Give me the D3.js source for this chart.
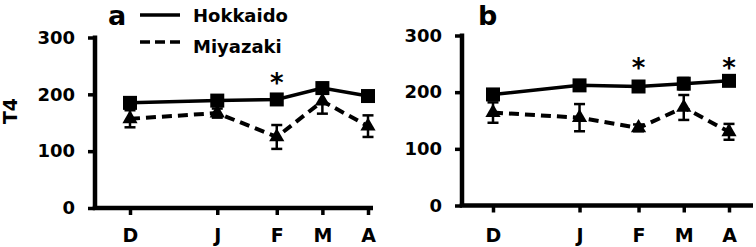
<!DOCTYPE html>
<html>
<head>
<meta charset="utf-8">
<script src="https://cdn.jsdelivr.net/npm/d3@7"></script>
<style>
  html, body { margin: 0; padding: 0; background: #fff; }
  svg { display: block; }
  text { font-family: "DejaVu Sans", Verdana, sans-serif; fill: #000; }
</style>
</head>
<body>
<svg id="chart" width="756" height="247"></svg>
<script>
// ---- data ----
const months = ["D", "J", "F", "M", "A"];
const monthDay = [0, 44, 74, 97, 120];          // sampling day since December
const yTicks = [0, 100, 200, 300];

const hokkaidoA = [185, 189, 191, 211, 197];
const hokkaidoAErr = [8, 6, 6, 9, 8];
const miyazakiA = [157, 167, 125, 188, 144];
const miyazakiAErr = [15, 8, 21, 22, 19];
const sigA = ["F"];

const hokkaidoB = [196, 212, 210, 215, 220];
const hokkaidoBErr = [8, 6, 6, 10, 6];
const miyazakiB = [164, 155, 137, 173, 130];
const miyazakiBErr = [18, 24, 6, 22, 14];
const sigB = ["F", "A"];

const seriesNames = ["Hokkaido", "Miyazaki"];
const panelLetters = ["a", "b"];
const yLabel = "T4";

// ---- drawing ----
const svg = d3.select("#chart");
const labelTop = 228.5;

const panels = [
  { letter: panelLetters[0], h: hokkaidoA, hErr: hokkaidoAErr, m: miyazakiA, mErr: miyazakiAErr, sig: sigA,
    axisX: 95, xRange: [130, 368], xEnd: 373, yRange: [208, 37.5], sigY: 78, letterX: 108 },
  { letter: panelLetters[1], h: hokkaidoB, hErr: hokkaidoBErr, m: miyazakiB, mErr: miyazakiBErr, sig: sigB,
    axisX: 462, xRange: [493, 729], xEnd: 753, yRange: [205.5, 35.5], sigY: 62.5, letterX: 478 }
];

panels.forEach((p, pi) => {
  const x = d3.scaleLinear().domain([monthDay[0], monthDay[monthDay.length - 1]]).range(p.xRange);
  const y = d3.scaleLinear().domain([0, 300]).range(p.yRange);
  const g = svg.append("g");

  // y axis
  const ya = g.append("g").attr("transform", `translate(${p.axisX},0)`)
    .call(d3.axisLeft(y).tickValues(yTicks).tickSize(7).tickPadding(13).tickSizeOuter(0));
  ya.select(".domain").remove();
  ya.selectAll(".tick line").attr("stroke", "#000").attr("stroke-width", 3.5);
  ya.selectAll(".tick text").style("font-size", "18px").style("font-weight", "bold");
  g.append("line")
    .attr("x1", p.axisX).attr("x2", p.axisX)
    .attr("y1", y(300) - 2).attr("y2", y(0))
    .attr("stroke", "#000").attr("stroke-width", 4.5);

  // x axis
  const xa = g.append("g").attr("transform", `translate(0,${y(0)})`)
    .call(d3.axisBottom(x).tickValues(monthDay).tickFormat((d, i) => months[i])
      .tickSize(7).tickPadding(labelTop - y(0) - 7).tickSizeOuter(0));
  xa.select(".domain").remove();
  xa.selectAll(".tick line").attr("stroke", "#000").attr("stroke-width", 3.5);
  xa.selectAll(".tick text").style("font-size", "19px").style("font-weight", "bold");
  g.append("line")
    .attr("x1", p.axisX - 2.25).attr("x2", p.xEnd)
    .attr("y1", y(0)).attr("y2", y(0))
    .attr("stroke", "#000").attr("stroke-width", 4.5);

  const line = d3.line().x((d, i) => x(monthDay[i])).y(d => y(d));

  // error bars
  [[p.m, p.mErr], [p.h, p.hErr]].forEach(([vals, errs]) => {
    const eb = g.append("g");
    vals.forEach((v, i) => {
      const cx = x(monthDay[i]);
      eb.append("line").attr("x1", cx).attr("x2", cx)
        .attr("y1", y(v - errs[i])).attr("y2", y(v + errs[i]))
        .attr("stroke", "#000").attr("stroke-width", 2.5);
      [v - errs[i], v + errs[i]].forEach(e => {
        eb.append("line").attr("x1", cx - 5.5).attr("x2", cx + 5.5)
          .attr("y1", y(e)).attr("y2", y(e))
          .attr("stroke", "#000").attr("stroke-width", 2.5);
      });
    });
  });

  // lines
  g.append("path").datum(p.m).attr("d", line)
    .attr("fill", "none").attr("stroke", "#000").attr("stroke-width", 4)
    .attr("stroke-dasharray", "10,6");
  g.append("path").datum(p.h).attr("d", line)
    .attr("fill", "none").attr("stroke", "#000").attr("stroke-width", 3.5);

  // markers
  g.selectAll(".tri").data(p.m).join("path")
    .attr("d", d3.symbol(d3.symbolTriangle, 100))
    .attr("transform", (d, i) => `translate(${x(monthDay[i])},${y(d)})`)
    .attr("fill", "#000");
  g.selectAll(".sq").data(p.h).join("path")
    .attr("d", d3.symbol(d3.symbolSquare, 196))
    .attr("transform", (d, i) => `translate(${x(monthDay[i])},${y(d)})`)
    .attr("fill", "#000");

  // significance asterisks
  p.sig.forEach(mo => {
    const i = months.indexOf(mo);
    g.append("text").attr("x", x(monthDay[i])).attr("y", p.sigY + 14)
      .attr("text-anchor", "middle")
      .style("font-size", "26px").style("font-weight", "bold").text("*");
  });

  // panel letter
  g.append("text").attr("x", p.letterX).attr("y", 25.3)
    .style("font-size", "27px").style("font-weight", "bold").text(p.letter);
});

// y label
svg.append("text")
  .attr("transform", "translate(17,111) rotate(-90)")
  .attr("text-anchor", "middle")
  .style("font-size", "19px").style("font-weight", "bold")
  .text(yLabel);

// legend
const leg = svg.append("g");
leg.append("line").attr("x1", 140).attr("x2", 180).attr("y1", 15).attr("y2", 15)
  .attr("stroke", "#000").attr("stroke-width", 3.5);
leg.append("line").attr("x1", 140).attr("x2", 180).attr("y1", 42).attr("y2", 42)
  .attr("stroke", "#000").attr("stroke-width", 3.5).attr("stroke-dasharray", "10,5");
leg.append("text").attr("x", 193).attr("y", 22)
  .style("font-size", "18px").style("font-weight", "bold").text(seriesNames[0]);
leg.append("text").attr("x", 193).attr("y", 53)
  .style("font-size", "18px").style("font-weight", "bold").text(seriesNames[1]);
</script>
</body>
</html>
